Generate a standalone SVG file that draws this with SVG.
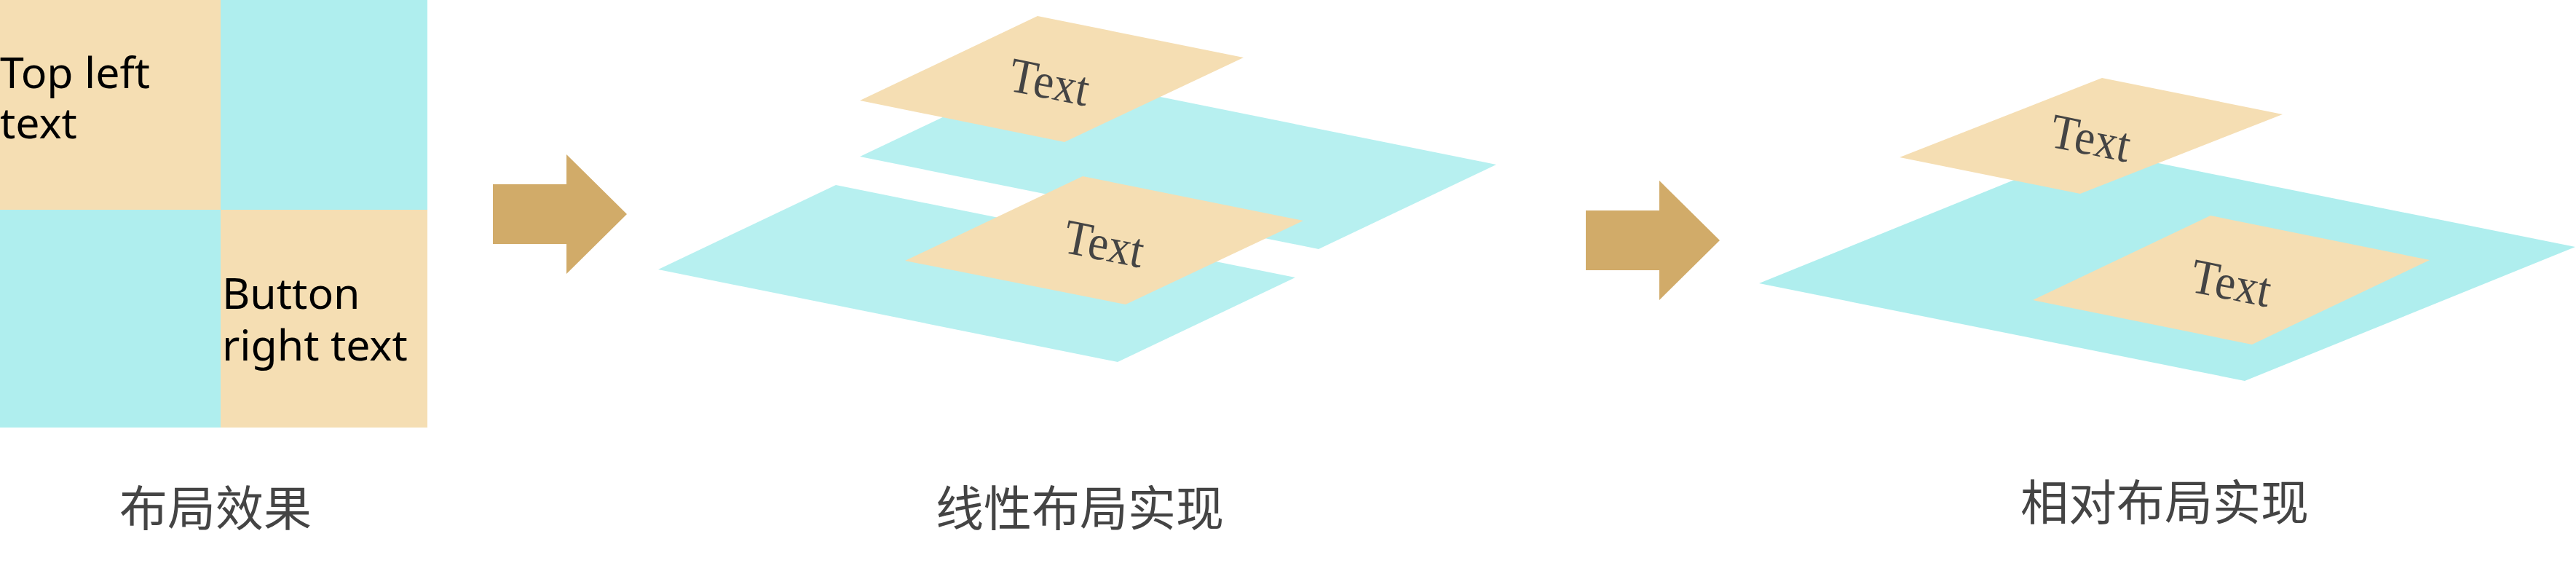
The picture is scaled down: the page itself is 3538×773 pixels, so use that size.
<svg xmlns="http://www.w3.org/2000/svg" width="3538" height="773" viewBox="0 0 3538 773">
<style>
.peach{fill:#F5DEB3}
.cyan{fill:#AFEEEE}
.cyan2{fill:#B7F0F0}
.arrow{fill:#D1AB69}
.lbl{font-family:"Noto Sans","Liberation Sans",sans-serif;font-size:59px;fill:#000}
.tx{font-family:"Liberation Serif",serif;font-size:68px;fill:#444}
.cap{font-family:"Noto Sans CJK SC",sans-serif;font-size:66px;fill:#444;text-anchor:middle}
</style>
<rect width="3538" height="773" fill="#fff"/>
<g id="layout-effect">
<rect class="peach" x="0" y="0" width="303" height="288"/>
<rect class="cyan" x="303" y="0" width="284" height="288"/>
<rect class="cyan" x="0" y="288" width="303" height="299"/>
<rect class="peach" x="303" y="288" width="284" height="299"/>
<text class="lbl" x="0" y="121">Top left</text>
<text class="lbl" x="0" y="190">text</text>
<text class="lbl" x="305" y="424">Button</text>
<text class="lbl" x="305" y="495">right text</text>
<text class="cap" x="296" y="722">布局效果</text>
</g>
<g id="connectors">
<polygon class="arrow" points="677,253 778,253 778,212 861,294 778,376 778,335 677,335"/>
<polygon class="arrow" points="2178,289 2279,289 2279,248 2362,330 2279,412 2279,371 2178,371"/>
</g>
<g id="linear-layout">
<polygon class="cyan2" points="1148,254 1779,381 1535,497 904,370"/>
<polygon class="cyan2" points="1425,99 2055,226 1811,342 1181,215"/>
<polygon class="peach" points="1425,22 1708,79 1462,195 1181,138"/>
<text class="tx" transform="translate(1383,124) rotate(11.3) scale(0.92,1)">Text</text>
<polygon class="peach" points="1487,242 1790,303 1546,418 1243,358"/>
<text class="tx" transform="translate(1458,346) rotate(11.3) scale(0.92,1)">Text</text>
<text class="cap" x="1483" y="722">线性布局实现</text>
</g>
<g id="relative-layout">
<polygon class="cyan" points="2870,205 3537,339 3083,523 2416,389"/>
<polygon class="peach" points="2887,107 3135,157 2857,266 2609,216"/>
<text class="tx" transform="translate(2813,201) rotate(11.3) scale(0.92,1)">Text</text>
<polygon class="peach" points="3036,296 3337,357 3093,473 2792,412"/>
<text class="tx" transform="translate(3006,400) rotate(11.3) scale(0.92,1)">Text</text>
<text class="cap" x="2973" y="714">相对布局实现</text>
</g>
</svg>
